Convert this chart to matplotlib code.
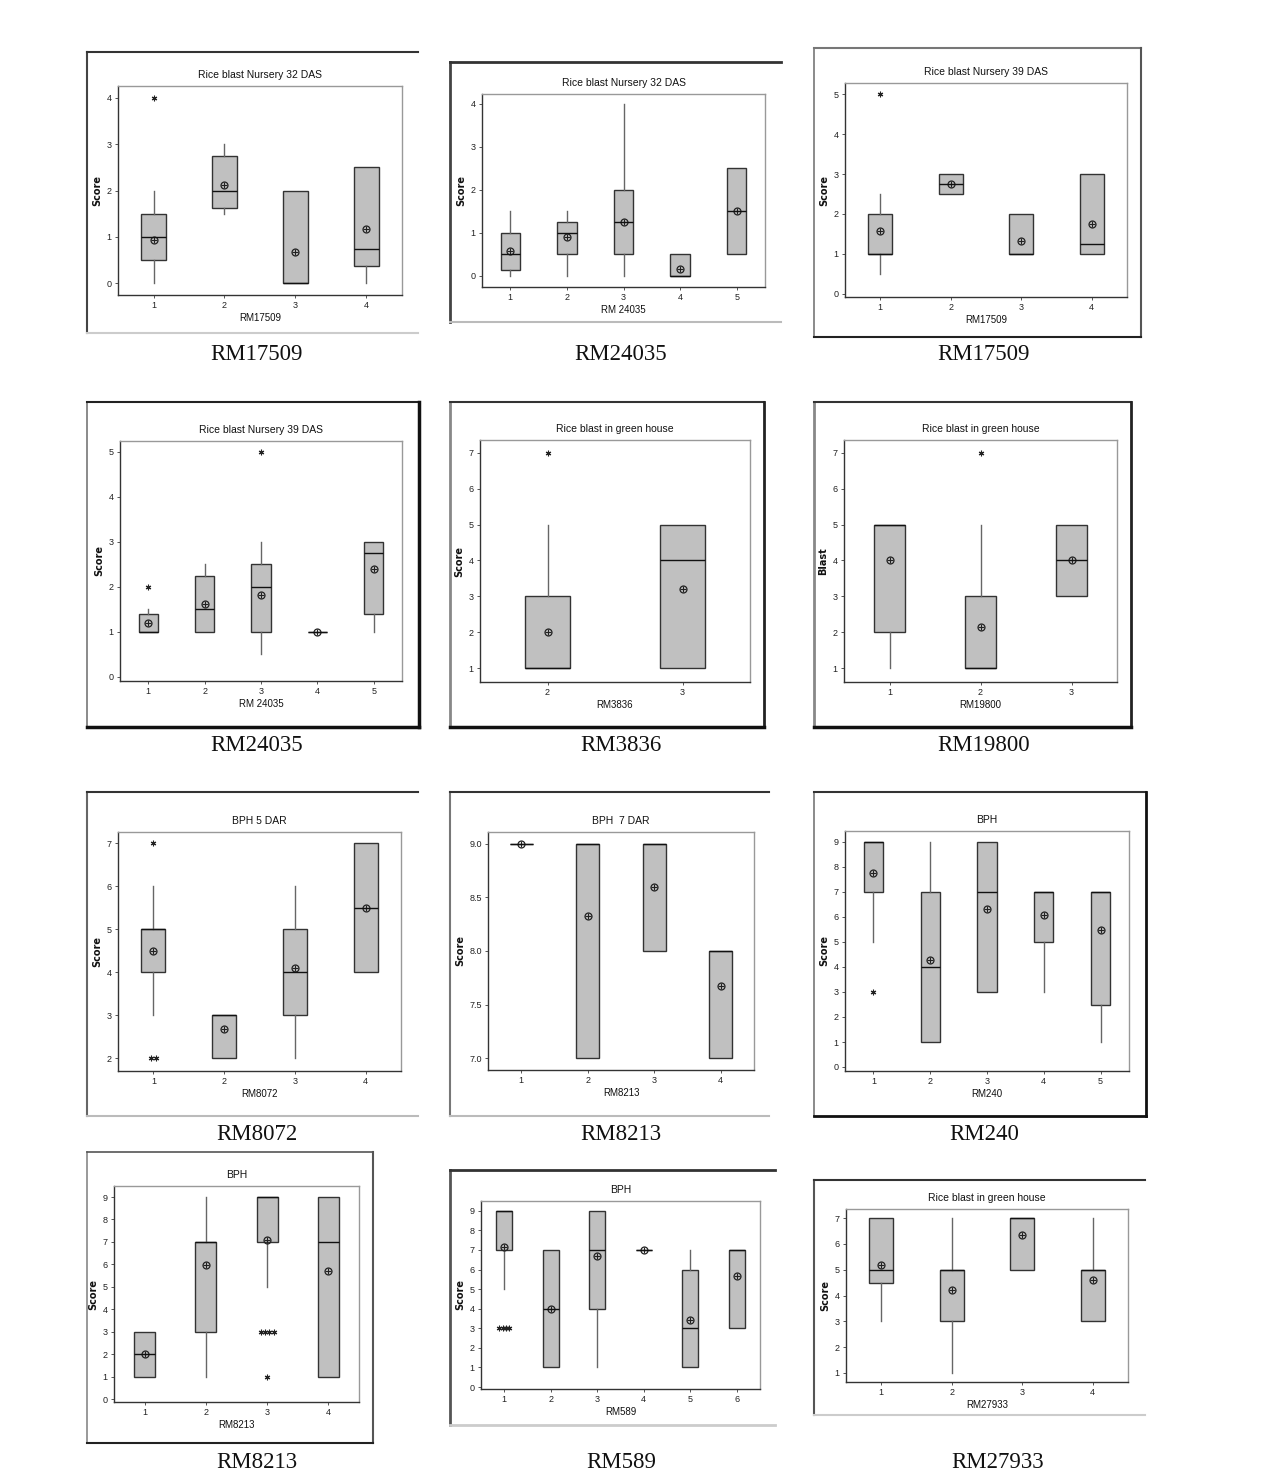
import matplotlib.pyplot as plt
from matplotlib.lines import Line2D

# ---- data ----
# each panel: whisker low, Q1, median, Q3, whisker high, mean, outliers per group
p1_groups = ['1', '2', '3', '4']
p1_lo = [0, 1.5, 0, 0]
p1_q1 = [0.5, 1.625, 0, 0.375]
p1_med = [1.0, 2.0, 0, 0.75]
p1_q3 = [1.5, 2.75, 2.0, 2.5]
p1_hi = [2.0, 3.0, 2.0, 2.5]
p1_mean = [0.93, 2.12, 0.67, 1.17]
p1_out = [[4], [], [], []]

p2_groups = ['1', '2', '3', '4', '5']
p2_lo = [0, 0, 0, 0, 0.5]
p2_q1 = [0.125, 0.5, 0.5, 0, 0.5]
p2_med = [0.5, 1.0, 1.25, 0, 1.5]
p2_q3 = [1.0, 1.25, 2.0, 0.5, 2.5]
p2_hi = [1.5, 1.5, 4.0, 0.5, 2.5]
p2_mean = [0.58, 0.9, 1.25, 0.17, 1.5]
p2_out = [[], [], [], [], []]

p3_groups = ['1', '2', '3', '4']
p3_lo = [0.5, 2.5, 1, 1]
p3_q1 = [1, 2.5, 1, 1]
p3_med = [1, 2.75, 1, 1.25]
p3_q3 = [2, 3, 2, 3]
p3_hi = [2.5, 3, 2, 3]
p3_mean = [1.57, 2.75, 1.33, 1.75]
p3_out = [[5], [], [], []]

p4_groups = ['1', '2', '3', '4', '5']
p4_lo = [1, 1, 0.5, 1, 1]
p4_q1 = [1, 1, 1, 1, 1.4]
p4_med = [1, 1.5, 2, 1, 2.75]
p4_q3 = [1.4, 2.25, 2.5, 1, 3]
p4_hi = [1.5, 2.5, 3, 1, 3]
p4_mean = [1.2, 1.63, 1.83, 1.0, 2.4]
p4_out = [[2], [], [5], [], []]

p5_groups = ['2', '3']
p5_lo = [1, 1]
p5_q1 = [1, 1]
p5_med = [1, 4]
p5_q3 = [3, 5]
p5_hi = [5, 5]
p5_mean = [2.0, 3.2]
p5_out = [[7], []]

p6_groups = ['1', '2', '3']
p6_lo = [1, 1, 3]
p6_q1 = [2, 1, 3]
p6_med = [5, 1, 4]
p6_q3 = [5, 3, 5]
p6_hi = [5, 5, 5]
p6_mean = [4.0, 2.14, 4.0]
p6_out = [[], [7], []]

p7_groups = ['1', '2', '3', '4']
p7_lo = [3, 2, 2, 4]
p7_q1 = [4, 2, 3, 4]
p7_med = [5, 3, 4, 5.5]
p7_q3 = [5, 3, 5, 7]
p7_hi = [6, 3, 6, 7]
p7_mean = [4.5, 2.67, 4.1, 5.5]
p7_out = [[7, 2, 2], [], [], []]

p8_groups = ['1', '2', '3', '4']
p8_lo = [9, 7, 8, 7]
p8_q1 = [9, 7, 8, 7]
p8_med = [9, 9, 9, 8]
p8_q3 = [9, 9, 9, 8]
p8_hi = [9, 9, 9, 8]
p8_mean = [9.0, 8.33, 8.6, 7.67]
p8_out = [[], [], [], []]

p9_groups = ['1', '2', '3', '4', '5']
p9_lo = [5, 1, 3, 3, 1]
p9_q1 = [7, 1, 3, 5, 2.5]
p9_med = [9, 4, 7, 7, 7]
p9_q3 = [9, 7, 9, 7, 7]
p9_hi = [9, 9, 9, 7, 7]
p9_mean = [7.75, 4.27, 6.33, 6.1, 5.5]
p9_out = [[3], [], [], [], []]

p10_groups = ['1', '2', '3', '4']
p10_lo = [1, 1, 5, 1]
p10_q1 = [1, 3, 7, 1]
p10_med = [2, 7, 9, 7]
p10_q3 = [3, 7, 9, 9]
p10_hi = [3, 9, 9, 9]
p10_mean = [2.0, 5.95, 7.07, 5.7]
p10_out = [[], [], [3, 3, 3, 3, 1], []]

p11_groups = ['1', '2', '3', '4', '5', '6']
p11_lo = [5, 1, 1, 7, 1, 3]
p11_q1 = [7, 1, 4, 7, 1, 3]
p11_med = [9, 4, 7, 7, 3, 7]
p11_q3 = [9, 7, 9, 7, 6, 7]
p11_hi = [9, 7, 9, 7, 7, 7]
p11_mean = [7.15, 4.0, 6.67, 7.0, 3.4, 5.67]
p11_out = [[3, 3, 3, 3], [], [], [], [], []]

p12_groups = ['1', '2', '3', '4']
p12_lo = [3, 1, 5, 3]
p12_q1 = [4.5, 3, 5, 3]
p12_med = [5, 5, 7, 5]
p12_q3 = [7, 5, 7, 5]
p12_hi = [7, 7, 7, 7]
p12_mean = [5.2, 4.2, 6.33, 4.6]
p12_out = [[], [], [], []]

captions = ['RM17509', 'RM24035', 'RM17509', 'RM24035', 'RM3836', 'RM19800',
            'RM8072', 'RM8213', 'RM240', 'RM8213', 'RM589', 'RM27933']


def make_stats(lo, q1, med, q3, hi, mean, out):
    return [dict(whislo=a, q1=b, med=c, q3=d, whishi=e, mean=m, fliers=[])
            for a, b, c, d, e, m in zip(lo, q1, med, q3, hi, mean)], out


# ---- layout: (frame box, frame sides, axes box (px), ylim, yticks, title, xlabel, ylabel, caption xy)
panels = [
    (make_stats(p1_lo, p1_q1, p1_med, p1_q3, p1_hi, p1_mean, p1_out), p1_groups,
     (87, 52, 418, 333), {'l': ('#444', 1.5), 't': ('#333', 1.5), 'b': ('#ccc', 1.5)},
     (118, 86, 402, 295), (-0.25, 4.25), [0, 1, 2, 3, 4], 'Rice blast Nursery 32 DAS', 'RM17509', 'Score', (257, 355)),
    (make_stats(p2_lo, p2_q1, p2_med, p2_q3, p2_hi, p2_mean, p2_out), p2_groups,
     (450, 62, 781, 322), {'l': ('#444', 2), 't': ('#333', 2), 'b': ('#bbb', 1.5)},
     (482, 94, 765, 287), (-0.26, 4.23), [0, 1, 2, 3, 4], 'Rice blast Nursery 32 DAS', 'RM 24035', 'Score', (621, 355)),
    (make_stats(p3_lo, p3_q1, p3_med, p3_q3, p3_hi, p3_mean, p3_out), p3_groups,
     (814, 48, 1141, 337), {'l': ('#777', 1.2), 't': ('#777', 1.5), 'r': ('#555', 1.5), 'b': ('#222', 1.5)},
     (845, 83, 1127, 297), (-0.08, 5.28), [0, 1, 2, 3, 4, 5], 'Rice blast Nursery 39 DAS', 'RM17509', 'Score', (984, 355)),
    (make_stats(p4_lo, p4_q1, p4_med, p4_q3, p4_hi, p4_mean, p4_out), p4_groups,
     (87, 402, 419, 727), {'l': ('#777', 1.2), 't': ('#222', 1.5), 'r': ('#111', 2.5), 'b': ('#111', 2.5)},
     (120, 441, 402, 681), (-0.09, 5.24), [0, 1, 2, 3, 4, 5], 'Rice blast Nursery 39 DAS', 'RM 24035', 'Score', (257, 745)),
    (make_stats(p5_lo, p5_q1, p5_med, p5_q3, p5_hi, p5_mean, p5_out), p5_groups,
     (450, 402, 764, 727), {'l': ('#888', 2), 't': ('#333', 1.5), 'r': ('#222', 2), 'b': ('#111', 2.5)},
     (480, 440, 750, 682), (0.61, 7.36), [1, 2, 3, 4, 5, 6, 7], 'Rice blast in green house', 'RM3836', 'Score', (621, 745)),
    (make_stats(p6_lo, p6_q1, p6_med, p6_q3, p6_hi, p6_mean, p6_out), p6_groups,
     (814, 402, 1131, 727), {'l': ('#888', 2), 't': ('#333', 1.5), 'r': ('#222', 2), 'b': ('#111', 2.5)},
     (844, 440, 1117, 682), (0.61, 7.36), [1, 2, 3, 4, 5, 6, 7], 'Rice blast in green house', 'RM19800', 'Blast', (984, 745)),
    (make_stats(p7_lo, p7_q1, p7_med, p7_q3, p7_hi, p7_mean, p7_out), p7_groups,
     (87, 792, 418, 1116), {'l': ('#666', 1.5), 't': ('#333', 1.5), 'b': ('#bbb', 1.5)},
     (118, 832, 401, 1071), (1.7, 7.26), [2, 3, 4, 5, 6, 7], 'BPH 5 DAR', 'RM8072', 'Score', (257, 1134)),
    (make_stats(p8_lo, p8_q1, p8_med, p8_q3, p8_hi, p8_mean, p8_out), p8_groups,
     (450, 792, 769, 1116), {'l': ('#777', 1.5), 't': ('#333', 1.5), 'b': ('#bbb', 1.5)},
     (488, 832, 754, 1070), (6.89, 9.11), [7.0, 7.5, 8.0, 8.5, 9.0], 'BPH  7 DAR', 'RM8213', 'Score', (621, 1134)),
    (make_stats(p9_lo, p9_q1, p9_med, p9_q3, p9_hi, p9_mean, p9_out), p9_groups,
     (814, 792, 1146, 1116), {'l': ('#777', 1.2), 't': ('#333', 1.5), 'r': ('#111', 2), 'b': ('#111', 2)},
     (845, 831, 1129, 1071), (-0.16, 9.44), list(range(10)), 'BPH', 'RM240', 'Score', (984, 1134)),
    (make_stats(p10_lo, p10_q1, p10_med, p10_q3, p10_hi, p10_mean, p10_out), p10_groups,
     (87, 1152, 373, 1443), {'l': ('#888', 1.2), 't': ('#555', 1.2), 'r': ('#555', 1.5), 'b': ('#222', 1.5)},
     (114, 1186, 359, 1402), (-0.13, 9.49), list(range(10)), 'BPH', 'RM8213', 'Score', (257, 1462)),
    (make_stats(p11_lo, p11_q1, p11_med, p11_q3, p11_hi, p11_mean, p11_out), p11_groups,
     (450, 1170, 775, 1425), {'l': ('#555', 2), 't': ('#333', 2), 'b': ('#ccc', 2)},
     (481, 1201, 760, 1389), (-0.1, 9.5), list(range(10)), 'BPH', 'RM589', 'Score', (621, 1462)),
    (make_stats(p12_lo, p12_q1, p12_med, p12_q3, p12_hi, p12_mean, p12_out), p12_groups,
     (814, 1180, 1145, 1415), {'l': ('#555', 1.5), 't': ('#333', 1.5), 'b': ('#ccc', 1.5)},
     (846, 1209, 1128, 1382), (0.65, 7.35), [1, 2, 3, 4, 5, 6, 7], 'Rice blast in green house', 'RM27933', 'Score', (998, 1462)),
]

W, H = 1274, 1478
fig = plt.figure(figsize=(W / 100, H / 100), dpi=100)
fig.patch.set_facecolor('white')
sans = ['Liberation Sans', 'DejaVu Sans']


def fx(x):
    return x / W


def fy(y):
    return 1 - y / H


for i, ((stats, outs), groups, frame, sides, box, ylim, yticks, title, xlabel, ylabel, cap) in enumerate(panels):
    # outer frame of each pasted graph
    fl, ft, fr, fb = frame
    seg = {'l': ([fl, fl], [ft, fb]), 'r': ([fr, fr], [ft, fb]),
           't': ([fl, fr], [ft, ft]), 'b': ([fl, fr], [fb, fb])}
    for s, (col, lw) in sides.items():
        xs, ys = seg[s]
        fig.add_artist(Line2D([fx(v) for v in xs], [fy(v) for v in ys], color=col, lw=lw,
                              transform=fig.transFigure))

    l, t, r, b = box
    ax = fig.add_axes([fx(l), fy(b), (r - l) / W, (b - t) / H])
    pos = list(range(1, len(groups) + 1))
    ax.bxp(stats, positions=pos, widths=0.34, patch_artist=True, showcaps=False,
           showfliers=False, showmeans=False,
           boxprops=dict(facecolor='#c0c0c0', edgecolor='#333333', lw=1.0),
           whiskerprops=dict(color='#666666', lw=1.0),
           medianprops=dict(color='#111111', lw=1.0))
    means = [s['mean'] for s in stats]
    ax.plot(pos, means, ls='none', marker='o', ms=5, mfc='none', mec='#222222', mew=0.9)
    ax.plot(pos, means, ls='none', marker='+', ms=5, mec='#222222', mew=0.8)
    # outliers (asterisks), repeated values drawn side by side
    for p, vals in zip(pos, outs):
        seen = {}
        for v in vals:
            seen[v] = seen.get(v, 0) + 1
        for v, n in seen.items():
            xs = [p + (k - (n - 1) / 2) * 0.07 for k in range(n)]
            ax.plot(xs, [v] * n, ls='none', marker=(6, 2, 0), ms=4, mec='#222222', mew=0.8)

    ax.set_xlim(0.5, len(groups) + 0.5)
    ax.set_ylim(*ylim)
    ax.set_xticks(pos)
    ax.set_xticklabels(groups)
    ax.set_yticks(yticks)
    if i == 7:
        ax.set_yticklabels([f'{v:.1f}' for v in yticks])
    ax.tick_params(length=2.5, width=0.7, color='#555555', labelsize=6.5, pad=2)
    for lab in ax.get_xticklabels() + ax.get_yticklabels():
        lab.set_family(sans)
        lab.set_color('#222222')
    for sp in ax.spines.values():
        sp.set_color('#999999')
        sp.set_linewidth(1.0)
    ax.spines['left'].set_color('#333333')
    ax.spines['bottom'].set_color('#333333')

    ax.set_title(title, fontsize=7.5, family=sans, color='#111111', pad=6)
    ax.set_xlabel(xlabel, fontsize=7, family=sans, color='#111111', labelpad=2)
    ax.set_ylabel(ylabel, fontsize=7, fontweight='bold', family=['DejaVu Sans'], color='#111111', labelpad=3)

    fig.text(fx(cap[0]), fy(cap[1]), captions[i], family=['Liberation Serif'], fontsize=16.5,
             ha='center', va='center', color='#111111')

fig.savefig('out.png', dpi=100, facecolor='white')
